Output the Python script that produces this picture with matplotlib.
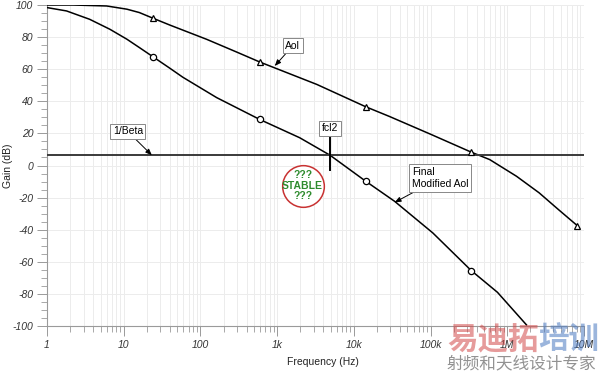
import matplotlib.pyplot as plt
from matplotlib.ticker import FixedLocator, NullFormatter

plt.rcParams['font.family'] = ['Liberation Sans', 'DejaVu Sans']

# Aol curve (Hz, dB)
aol_freq = [1, 2.2, 6, 11, 16, 24, 40, 121, 300, 593, 3300, 14300, 29000, 100000,
            340000, 590000, 1320000, 2600000, 4660000, 8200000]
aol_gain = [100, 100, 99.4, 97.4, 95.3, 91.8, 87.5, 78.6, 70.6, 64.5, 50.5, 36.6,
            30.6, 19.5, 8.3, 3.7, -6.7, -17.0, -27.5, -37.5]
aol_mark_freq = [24, 593, 14300, 340000, 8200000]
aol_mark_gain = [91.8, 64.5, 36.6, 8.3, -37.5]

# Final modified Aol
mod_freq = [1, 1.8, 3.6, 6.6, 11, 16, 24, 40, 59, 163, 593, 1970, 4900, 14300,
            34000, 107000, 340000, 745000, 1780000]
mod_gain = [98.4, 96.3, 91.1, 84.9, 78.7, 73.5, 67.8, 60.6, 55.0, 42.3, 28.7, 17.3,
            6.4, -9.8, -22.3, -42.0, -65.5, -79.0, -99.3]
mod_mark_freq = [24, 593, 14300, 340000]
mod_mark_gain = [67.8, 28.7, -9.8, -65.5]

beta_gain = 6.4
fcl2_freq = 4900
fcl2_span = [-3.1, 20.0]

x_ticks = [1, 10, 100, 1e3, 1e4, 1e5, 1e6, 1e7]
x_labels = ['1', '10', '100', '1k', '10k', '100k', '1M', '10M']
y_ticks = list(range(-100, 101, 20))

fig = plt.figure(figsize=(6.0, 3.74), dpi=100)
ax = fig.add_axes([0.0783, 0.1283, 0.895, 0.8583])

ax.set_xscale('log')
ax.set_xlim(1, 1e7)
ax.set_ylim(-100, 100)

# grid and ticks
minor_x = [m * 10 ** d for d in range(0, 7) for m in range(2, 10)]
ax.xaxis.set_minor_locator(FixedLocator(minor_x))
ax.xaxis.set_minor_formatter(NullFormatter())
ax.set_xticks(x_ticks)
ax.set_xticklabels(x_labels, fontsize=7.5, style='italic', color='#333333')
ax.set_yticks(y_ticks)
ax.set_yticklabels([str(v) for v in y_ticks], fontsize=7.5, style='italic', color='#333333')
ax.yaxis.set_minor_locator(FixedLocator(list(range(-100, 101, 5))))
ax.grid(True, which='major', color='#ececec', linewidth=0.7)
ax.grid(True, which='minor', axis='x', color='#ececec', linewidth=0.7)
ax.set_axisbelow(True)

for s in ['top', 'right']:
    ax.spines[s].set_visible(False)
for s in ['left', 'bottom']:
    ax.spines[s].set_color('#9a9a9a')
    ax.spines[s].set_linewidth(0.8)
ax.tick_params(axis='both', which='major', color='#9a9a9a', length=7, width=0.7, pad=3)
ax.tick_params(axis='both', which='minor', color='#9a9a9a', length=4, width=0.6)

ax.set_xlabel('Frequency (Hz)', fontsize=7.5, color='#222222')
ax.xaxis.set_label_coords(0.514, -0.095)
ax.set_ylabel('Gain (dB)', fontsize=7.5, color='#222222')
ax.yaxis.set_label_coords(-0.063, 0.5)

# curves
ax.plot(aol_freq, aol_gain, color='black', linewidth=1.1, zorder=3)
ax.plot(aol_mark_freq, aol_mark_gain, linestyle='none', marker='^', markersize=5,
        markerfacecolor='white', markeredgecolor='black', markeredgewidth=0.9, zorder=4)
ax.plot(mod_freq, mod_gain, color='black', linewidth=1.1, zorder=3)
ax.plot(mod_mark_freq, mod_mark_gain, linestyle='none', marker='o', markersize=4.5,
        markerfacecolor='white', markeredgecolor='black', markeredgewidth=0.9, zorder=4)
ax.axhline(beta_gain, color='#3a3a3a', linewidth=1.4, zorder=3)
ax.plot([fcl2_freq, fcl2_freq], fcl2_span, color='black', linewidth=1.4, zorder=3)

box = dict(boxstyle='square,pad=0.25', facecolor='white', edgecolor='#888888', linewidth=0.7)
arrow = dict(arrowstyle='-|>,head_length=0.5,head_width=0.2', color='black', linewidth=0.7,
             shrinkA=0, shrinkB=0)
ax.annotate('Aol', xy=(930, 62), xytext=(1600, 74.6), fontsize=7.5, ha='center', va='center',
            bbox=box, arrowprops=arrow, zorder=5)
ax.annotate('1/Beta', xy=(23.3, beta_gain), xytext=(11.3, 21.2), fontsize=7.5, ha='center',
            va='center', bbox=box, arrowprops=arrow, zorder=5)
ax.text(fcl2_freq, 23.1, 'fcl2', fontsize=7.5, ha='center', va='center', bbox=box, zorder=5)
ax.annotate('Final\nModified Aol', xy=(34000, -23), xytext=(57000, -7.8), fontsize=7.5,
            ha='left', va='center', bbox=box, arrowprops=arrow, linespacing=1.3, zorder=5)

# STABLE stamp
ax.plot([2150], [-12.5], marker='o', markersize=30, markerfacecolor='white',
        markeredgecolor='#c83232', markeredgewidth=1.1, zorder=5)
ax.text(2150, -12.5, '???\nSTABLE\n???', fontsize=7.5, fontweight='bold',
        color='#2e8b2e', ha='center', va='center', linespacing=1.1, zorder=6)

# watermark
cjk = ['Noto Sans CJK SC', 'DejaVu Sans']
fig.text(447 / 600, 1 - 340 / 374, '易迪拓', fontsize=22, fontweight='bold', family=cjk,
         color='#d24a4a', alpha=0.55, ha='left', va='center')
fig.text(538 / 600, 1 - 340 / 374, '培训', fontsize=22, fontweight='bold', family=cjk,
         color='#4a78c0', alpha=0.55, ha='left', va='center')
fig.text(447 / 600, 1 - 364 / 374, '射频和天线设计专家', fontsize=12, family=cjk,
         color='#777777', alpha=0.8, ha='left', va='center')

fig.savefig('out.png', dpi=100)
